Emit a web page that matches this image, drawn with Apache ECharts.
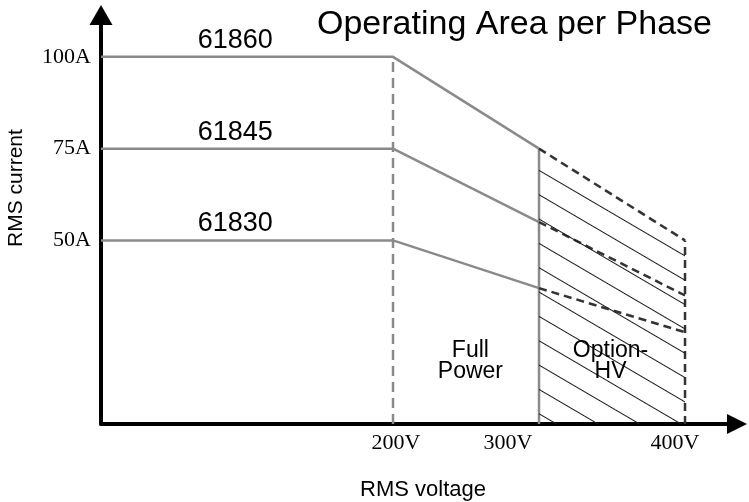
<!DOCTYPE html>
<html lang="en">
<head>
    <meta charset="UTF-8">
    <title>Operating Area per Phase</title>
    <script src="https://cdn.jsdelivr.net/npm/echarts@6/dist/echarts.min.js"></script>
</head>
<body style="margin:0">
    <div id="main" style="width:749px;height:502px;"></div>

<script>

var myChart = echarts.init(document.getElementById('main'));

// RMS voltage breakpoints (V)
var voltage = [0, 200, 300, 400];
// RMS current per model (A) at those voltages
var cur61860 = [100, 100, 75, 50];
var cur61845 = [75, 75, 55, 35];
var cur61830 = [50, 50, 37, 25];
var models = ['61860', '61845', '61830'];
var xTicks = [200, 300, 400];
var yTicks = [50, 75, 100];

var gray = '#8a8a8a';
var dark = '#333';

function pts(cur, from, to) {
    var out = [];
    for (var i = from; i <= to; i++) out.push([voltage[i], cur[i]]);
    return out;
}

var series = [];
[cur61860, cur61845, cur61830].forEach(function (cur, k) {
    // full power part (solid gray)
    series.push({
        type: 'line', symbol: 'none', z: 3,
        data: pts(cur, 0, 2),
        lineStyle: { color: gray, width: 2.5 },
        markPoint: {
            symbol: 'circle', symbolSize: 0,
            data: [{
                coord: [92, cur[0]],
                label: {
                    show: true, position: 'top', distance: 3,
                    formatter: models[k], color: '#000', fontSize: 27,
                    fontFamily: 'Liberation Sans'
                }
            }]
        }
    });
    // option-HV part (dashed dark)
    series.push({
        type: 'line', symbol: 'none', z: 3,
        data: pts(cur, 2, 3),
        lineStyle: { color: dark, width: 2.5, type: [8, 5] }
    });
});

// hatched option-HV area
series.push({
    type: 'line', symbol: 'none', z: 4,
    data: pts(cur61860, 2, 3),
    lineStyle: { width: 0 },
    areaStyle: { color: 'rgba(255,255,255,0)', opacity: 1 },
    itemStyle: {
        decal: {
            symbol: 'rect', symbolSize: 1,
            dashArrayX: [1, 0], dashArrayY: [1, 19.3],
            rotation: 0.53, color: '#1a1a1a'
        }
    }
});

// vertical boundaries
series.push({
    type: 'line', symbol: 'none', z: 2,
    data: [[voltage[1], 0], [voltage[1], cur61860[1]]],
    lineStyle: { color: gray, width: 2.5, type: [10, 6] }
});
series.push({
    type: 'line', symbol: 'none', z: 2,
    data: [[voltage[2], 0], [voltage[2], cur61860[2]]],
    lineStyle: { color: gray, width: 2.5 }
});
series.push({
    type: 'line', symbol: 'none', z: 2,
    data: [[voltage[3], 0], [voltage[3], cur61860[3]]],
    lineStyle: { color: dark, width: 2.5, type: [8, 5] }
});

// region captions
var caption = {
    show: true, position: 'inside', color: '#000', fontSize: 23,
    lineHeight: 21, fontFamily: 'Liberation Sans'
};
series.push({
    type: 'scatter', symbolSize: 0, z: 6,
    itemStyle: { opacity: 1 },
    data: [
        { value: [253, 17], label: Object.assign({ formatter: 'Full\nPower' }, caption) },
        { value: [349, 17], label: Object.assign({ formatter: 'Option-\nHV' }, caption) }
    ]
});

var serif = { fontFamily: 'Liberation Serif', fontSize: 22, color: '#000' };

myChart.setOption({
    animation: false,
    title: {
        text: 'Operating Area per Phase',
        left: 312, top: 3,
        textStyle: { fontFamily: 'Liberation Sans', fontWeight: 'normal', fontSize: 34, color: '#000' }
    },
    grid: { left: 101, right: 12, top: 15, bottom: 78, outerBoundsMode: 'none', containLabel: false },
    xAxis: {
        type: 'value', min: 0, max: 435.6,
        name: 'RMS voltage', nameLocation: 'middle', nameGap: 55,
        nameTextStyle: { fontFamily: 'Liberation Sans', fontSize: 22, color: '#000', padding: [0, 0, 0, 8] },
        splitLine: { show: false },
        axisTick: { show: false },
        axisLine: {
            lineStyle: { color: '#000', width: 4 },
            symbol: ['none', 'triangle'], symbolSize: [20, 20]
        },
        axisLabel: {
            customValues: xTicks, margin: 8,
            formatter: function (v) {
                if (v === 300) return '{a|300V}';
                if (v === 400) return '{b|400V}';
                return '{c|' + v + 'V}';
            },
            rich: {
                a: Object.assign({ padding: [0, 62, 0, 0] }, serif),
                b: Object.assign({ padding: [0, 20, 0, 0] }, serif),
                c: Object.assign({ padding: [0, 0, 0, 6] }, serif)
            }
        }
    },
    yAxis: {
        type: 'value', min: 0, max: 111.4,
        splitLine: { show: false },
        axisTick: { show: false },
        axisLine: {
            lineStyle: { color: '#000', width: 4 },
            symbol: ['none', 'triangle'], symbolSize: [23, 20]
        },
        axisLabel: Object.assign({
            customValues: yTicks, margin: 10,
            formatter: '{value}A'
        }, serif)
    },
    graphic: [{
        type: 'text', x: 6, y: 247, rotation: Math.PI / 2,
        style: { text: 'RMS current', font: '21px "Liberation Sans"', fill: '#000' }
    }],
    series: series
});

</script>
</body>
</html>
